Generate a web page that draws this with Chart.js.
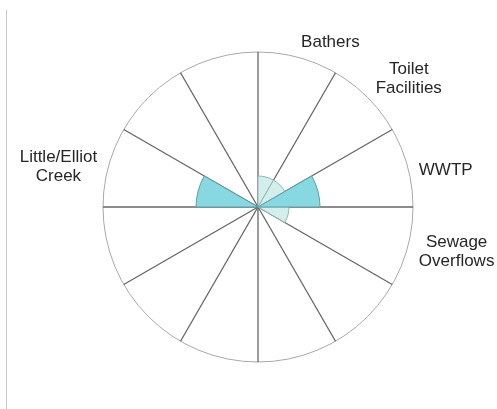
<!DOCTYPE html>
<html>
<head>
<meta charset="utf-8">
<script src="https://cdn.jsdelivr.net/npm/chart.js@4.4.1/dist/chart.umd.min.js"></script>
<style>
  html, body { margin: 0; padding: 0; background: #fff; }
  #wrap { position: relative; width: 497px; height: 409px; }
  #edge { position: absolute; left: 6px; top: 10px; width: 1px; height: 399px; background: #c8c8c8; }
  canvas { position: absolute; left: 0; top: 0; }
</style>
</head>
<body>
<div id="wrap">
  <div id="edge"></div>
  <canvas id="c" width="497" height="409"></canvas>
</div>
<script>
// Twelve 30-degree sectors, clockwise from the top
const categories = [
  ["Bathers"], ["Toilet", "Facilities"], ["WWTP"], ["Sewage", "Overflows"],
  [""], [""], [""], [""], [""], ["Little/Elliot", "Creek"], [""], [""]
];
const lowerValues = [1, 1, 1, 1, 0, 0, 0, 0, 0, 0, 0, 0];
const upperValues = [0, 0, 2, 0, 0, 0, 0, 0, 0, 2, 0, 0];
const scaleMax = 5;

const sectorLabels = {
  id: 'sectorLabels',
  afterDraw(chart) {
    const scale = chart.scales.r;
    const ctx = chart.ctx;
    const n = categories.length;
    const half = Math.PI / n;
    const lineH = 19;
    ctx.save();
    ctx.font = '17px "Liberation Sans", Arial, sans-serif';
    ctx.fillStyle = '#262626';
    ctx.textBaseline = 'middle';
    categories.forEach((lines, i) => {
      if (!lines[0]) return;
      const p = scale.getPointPosition(i, scale.drawingArea + 11.5, half);
      const ang = scale.getIndexAngle(i) + half;
      const s = Math.sin(ang), c = Math.cos(ang);
      const w = Math.max(...lines.map(t => ctx.measureText(t).width));
      const h = lines.length * lineH;
      let cx;
      if (s > 0.05) cx = p.x + w / 2; else if (s < -0.05) cx = p.x - w / 2; else cx = p.x;
      const cy = c > 0 ? p.y - (h / 2) * c * 1.5 + 10 : p.y + 2;
      ctx.textAlign = 'center';
      lines.forEach((t, k) => {
        ctx.fillText(t, cx, cy - h / 2 + lineH / 2 + k * lineH);
      });
    });
    ctx.restore();
  }
};

new Chart(document.getElementById('c'), {
  type: 'polarArea',
  data: {
    labels: categories,
    datasets: [
      {
        data: upperValues,
        backgroundColor: '#88d8e2',
        borderColor: '#5e9ea4',
        borderWidth: 1
      },
      {
        data: lowerValues,
        backgroundColor: '#d3eeeb',
        borderColor: '#8fb8b5',
        borderWidth: 1
      }
    ]
  },
  options: {
    responsive: false,
    animation: false,
    layout: { padding: { left: 60, right: 41, top: 52, bottom: 46 } },
    plugins: { legend: { display: false }, tooltip: { enabled: false } },
    scales: {
      r: {
        min: 0,
        max: scaleMax,
        startAngle: 0,
        ticks: { display: false, stepSize: scaleMax },
        grid: { color: '#a8a8a8', lineWidth: 1 },
        angleLines: { display: true, color: '#666', lineWidth: 1.3 },
        pointLabels: { display: false },
        z: 1
      }
    }
  },
  plugins: [sectorLabels]
});
</script>
</body>
</html>
